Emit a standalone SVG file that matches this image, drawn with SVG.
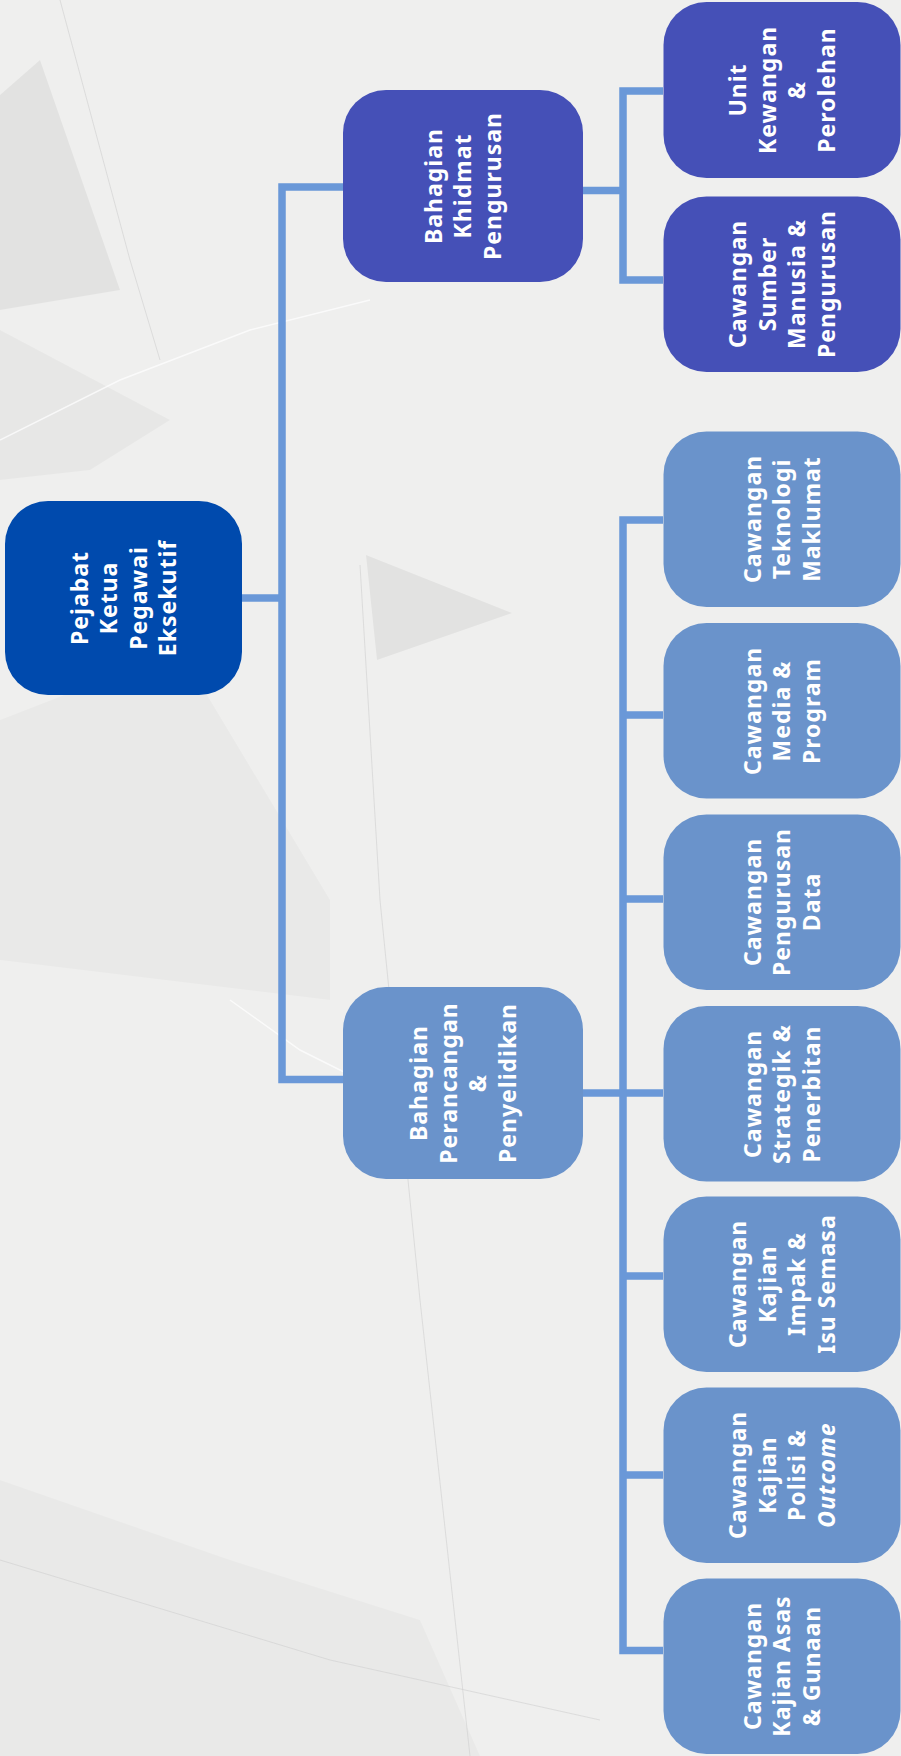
<svg xmlns="http://www.w3.org/2000/svg" width="901" height="1756" viewBox="0 0 901 1756">
<defs>
<style>
.bg{fill:#EFEFEE}
.shade{fill:#000}
.crease{stroke:#FFFFFF;stroke-width:1.5;fill:none;opacity:0.7}
.crease2{stroke:#CFCFCF;stroke-width:1;fill:none;opacity:0.6}
.conn{stroke:#6A98D8;stroke-width:7.5;fill:none;stroke-linejoin:miter;stroke-linecap:butt}
.root{fill:#004AAD}
.dark{fill:#4550B7}
.light{fill:#6A93CB}
.lbl{fill:#FFFFFF;font-family:"Noto Sans","DejaVu Sans",sans-serif;font-weight:700;font-size:23px;letter-spacing:1px;text-anchor:middle}
.it{font-style:italic}
</style>
</defs>
<g id="background">
<rect class="bg" x="0" y="0" width="901" height="1756"/>
<polygon class="shade" opacity="0.05" points="0,95 40,60 120,290 0,310"/>
<polygon class="shade" opacity="0.03" points="0,330 170,420 90,470 0,480"/>
<polygon class="shade" opacity="0.05" points="366,555 512,613 377,660"/>
<polygon class="shade" opacity="0.025" points="0,720 180,650 330,900 330,1000 0,960"/>
<polygon class="shade" opacity="0.025" points="0,1480 230,1560 420,1620 480,1756 0,1756"/>
<polyline class="crease" points="0,440 120,380 250,330 370,300"/>
<polyline class="crease" points="230,1000 300,1050 380,1090"/>
<polyline class="crease2" points="360,565 380,900 420,1300 470,1756"/>
<polyline class="crease2" points="0,1560 330,1660 600,1720"/>
<polyline class="crease2" points="60,0 130,260 160,360"/>
</g>
<g id="connectors">
<path class="conn" d="M242,598 H282"/>
<path class="conn" d="M343,187 H282 V1079.5 H343"/>
<path class="conn" d="M583,190.5 H623"/>
<path class="conn" d="M663,91 H623 V280 H663"/>
<path class="conn" d="M583,1093 H663"/>
<path class="conn" d="M663,520 H623 V1650.5 H663"/>
<path class="conn" d="M623,715 H663 M623,899 H663 M623,1276 H663 M623,1475 H663"/>
</g>
<g id="n-root">
<rect class="root" x="5" y="501" width="237" height="194" rx="43"/>
<text class="lbl" transform="translate(123.5,598) rotate(-90)"><tspan x="0" y="-36">Pejabat</tspan><tspan x="0" y="-6.5">Ketua</tspan><tspan x="0" y="23">Pegawai</tspan><tspan x="0" y="52.5">Eksekutif</tspan></text>
</g>
<g id="n-khidmat">
<rect class="dark" x="343" y="90" width="240" height="192" rx="43"/>
<text class="lbl" transform="translate(463,186) rotate(-90)"><tspan x="0" y="-21.5">Bahagian</tspan><tspan x="0" y="8">Khidmat</tspan><tspan x="0" y="37.5">Pengurusan</tspan></text>
</g>
<g id="n-perancangan">
<rect class="light" x="343" y="987" width="240" height="192" rx="43"/>
<text class="lbl" transform="translate(463,1083) rotate(-90)"><tspan x="0" y="-36">Bahagian</tspan><tspan x="0" y="-6.5">Perancangan</tspan><tspan x="0" y="23">&amp;</tspan><tspan x="0" y="52.5">Penyelidikan</tspan></text>
</g>
<g id="n-unit">
<rect class="dark" x="663.5" y="2" width="237" height="176" rx="43"/>
<text class="lbl" transform="translate(782,90) rotate(-90)"><tspan x="0" y="-36">Unit</tspan><tspan x="0" y="-6.5">Kewangan</tspan><tspan x="0" y="23">&amp;</tspan><tspan x="0" y="52.5">Perolehan</tspan></text>
</g>
<g id="n-sumber">
<rect class="dark" x="663.5" y="196.5" width="237" height="175.5" rx="43"/>
<text class="lbl" transform="translate(782,284) rotate(-90)"><tspan x="0" y="-36">Cawangan</tspan><tspan x="0" y="-6.5">Sumber</tspan><tspan x="0" y="23">Manusia &amp;</tspan><tspan x="0" y="52.5">Pengurusan</tspan></text>
</g>
<g id="n-teknologi">
<rect class="light" x="663.5" y="431.5" width="237" height="175.5" rx="43"/>
<text class="lbl" transform="translate(782,519) rotate(-90)"><tspan x="0" y="-21.5">Cawangan</tspan><tspan x="0" y="8">Teknologi</tspan><tspan x="0" y="37.5">Maklumat</tspan></text>
</g>
<g id="n-media">
<rect class="light" x="663.5" y="623" width="237" height="175.5" rx="43"/>
<text class="lbl" transform="translate(782,711) rotate(-90)"><tspan x="0" y="-21.5">Cawangan</tspan><tspan x="0" y="8">Media &amp;</tspan><tspan x="0" y="37.5">Program</tspan></text>
</g>
<g id="n-data">
<rect class="light" x="663.5" y="814.5" width="237" height="175.5" rx="43"/>
<text class="lbl" transform="translate(782,902) rotate(-90)"><tspan x="0" y="-21.5">Cawangan</tspan><tspan x="0" y="8">Pengurusan</tspan><tspan x="0" y="37.5">Data</tspan></text>
</g>
<g id="n-strategik">
<rect class="light" x="663.5" y="1006" width="237" height="175.5" rx="43"/>
<text class="lbl" transform="translate(782,1094) rotate(-90)"><tspan x="0" y="-21.5">Cawangan</tspan><tspan x="0" y="8">Strategik &amp;</tspan><tspan x="0" y="37.5">Penerbitan</tspan></text>
</g>
<g id="n-impak">
<rect class="light" x="663.5" y="1196.5" width="237" height="175.5" rx="43"/>
<text class="lbl" transform="translate(782,1284) rotate(-90)"><tspan x="0" y="-36">Cawangan</tspan><tspan x="0" y="-6.5">Kajian</tspan><tspan x="0" y="23">Impak &amp;</tspan><tspan x="0" y="52.5">Isu Semasa</tspan></text>
</g>
<g id="n-polisi">
<rect class="light" x="663.5" y="1387.5" width="237" height="175.5" rx="43"/>
<text class="lbl" transform="translate(782,1475) rotate(-90)"><tspan x="0" y="-36">Cawangan</tspan><tspan x="0" y="-6.5">Kajian</tspan><tspan x="0" y="23">Polisi &amp;</tspan><tspan class="it" x="0" y="52.5">Outcome</tspan></text>
</g>
<g id="n-asas">
<rect class="light" x="663.5" y="1578.5" width="237" height="175.5" rx="43"/>
<text class="lbl" transform="translate(782,1666) rotate(-90)"><tspan x="0" y="-21.5">Cawangan</tspan><tspan x="0" y="8">Kajian Asas</tspan><tspan x="0" y="37.5">&amp; Gunaan</tspan></text>
</g>
</svg>
